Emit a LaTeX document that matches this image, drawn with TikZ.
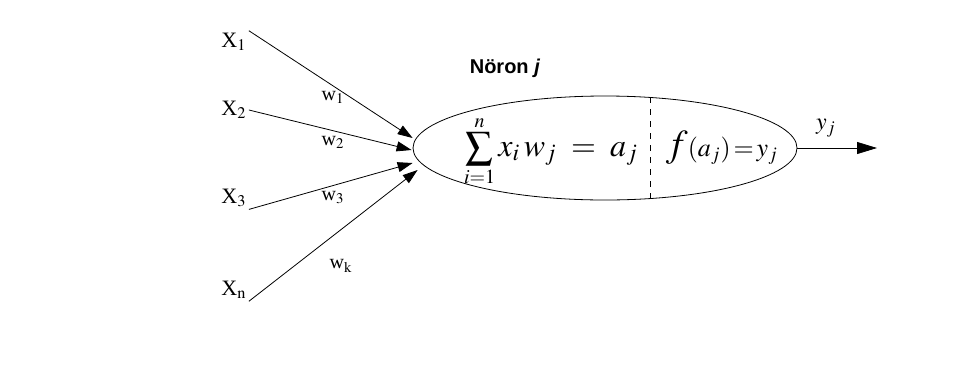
\documentclass[tikz,border=0pt]{standalone}
\usepackage{mathptmx}
\usepackage{fontspec}
\setmainfont{Liberation Serif}
\newfontfamily\labelsans{Liberation Sans}
\usetikzlibrary{shapes.geometric, arrows.meta, positioning, calc}

\begin{document}
\begin{tikzpicture}[
  x=0.5pt, y=-0.5pt,
  inlabel/.style={inner sep=1pt, font=\fontsize{11}{13}\selectfont},
  wlabel/.style={inner sep=0pt, font=\fontsize{10}{12}\selectfont},
  cell/.style={ellipse, draw, thin, minimum width=192pt, minimum height=52pt, inner sep=0pt},
  arrow/.style={-{Triangle[length=7.5pt,width=5pt]}, thin},
  outarrow/.style={-{Triangle[length=10pt,width=6pt]}, thin}
]
\useasboundingbox (0,0) rectangle (980,381);

% inputs
\node[inlabel] (x1) at (234,42) {X$_1$};
\node[inlabel] (x2) at (234,110) {X$_2$};
\node[inlabel] (x3) at (234,198) {X$_3$};
\node[inlabel] (xn) at (234,290) {X$_\mathrm{n}$};

% neuron
\node[cell] (neuron) at (605,148) {};
\node[font=\labelsans\bfseries\fontsize{10}{12}\selectfont] (title) at (505,68) {Nöron \textit{j}};
\node[inner sep=0pt, anchor=base] (sum) at (551,156)
  {{\fontsize{13.5}{15}\selectfont$\displaystyle\sum_{i=1}^{n}$}\,{\fontsize{16}{18}\selectfont$x_i\,w_j \;=\; a_j$}};
\node[font=\fontsize{13}{15}\selectfont] (act) at (722,148) {{\fontsize{19}{20}\selectfont$f$}$(a_j)\!=\!y_j$};
\coordinate (top) at ($(neuron.center)+(45,-50.6)$);
\coordinate (bot) at ($(neuron.center)+(45,50.6)$);
\draw[dashed, thin] (top) -- (bot);

% connectors
\coordinate (in1) at ($(neuron.west)+(0,-10)$);
\coordinate (in2) at ($(neuron.west)+(-1,2)$);
\coordinate (in3) at ($(neuron.west)+(0,15)$);
\coordinate (inn) at ($(neuron.west)+(5,22)$);
\draw[arrow] (x1.north east) -- (in1);
\draw[arrow] (x2.east) -- (in2);
\draw[arrow] (x3.south east) -- (in3);
\draw[arrow] (xn.south east) -- (inn);

\node[wlabel] (w1) at (333,97) {w$_1$};
\node[wlabel] (w2) at (333,142) {w$_2$};
\node[wlabel] (w3) at (333,198) {w$_3$};
\node[wlabel] (wk) at (341,266) {w$_\mathrm{k}$};

% output
\coordinate (out) at (877,148);
\draw[outarrow] (neuron.east) -- (out);
\node[font=\fontsize{12}{14}\selectfont] (yj) at (826,128) {$y_j$};
\end{tikzpicture}
\end{document}
